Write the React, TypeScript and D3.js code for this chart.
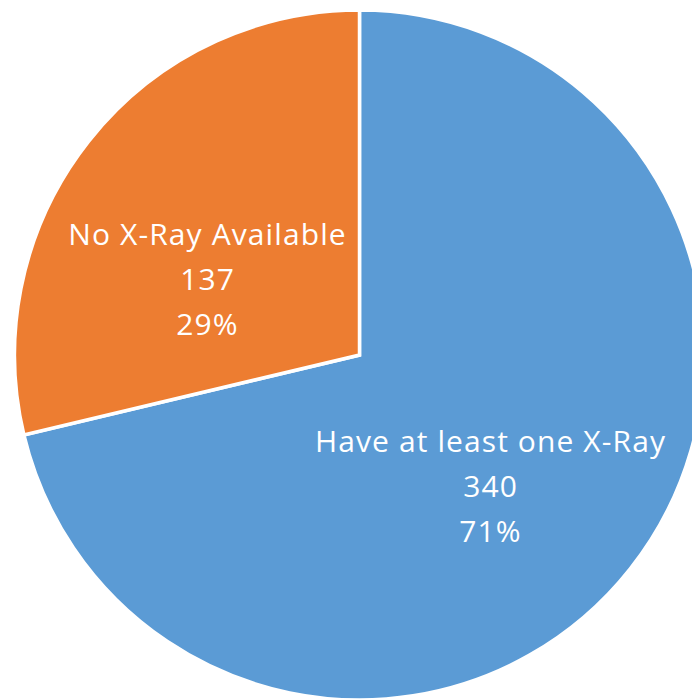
import React from "react";
import * as d3 from "d3";

const categories = ["Have at least one X-Ray", "No X-Ray Available"];
const values = [340, 137];
const percents = ["71%", "29%"];
const colors = ["#5B9BD5", "#ED7D31"];

const W = 692;
const H = 699;
const cx = 359.5;
const cy = 355;
const R = 345;
const labelAnchors: [number, number][] = [
  [490, 452],
  [207, 244.5],
];
const LS = 1.1;

export default function App() {
  const pie = d3.pie<number>().sort(null).value((d) => d);
  const arcs = pie(values);
  const arc = d3.arc<d3.PieArcDatum<number>>().innerRadius(0).outerRadius(R);
  return (
    <svg
      width={W}
      height={H}
      style={{ position: "absolute", left: 0, top: 0, background: "#fff" }}
      fontFamily="'Open Sans', sans-serif"
    >
      <g transform={`translate(${cx},${cy})`}>
        {arcs.map((a, i) => (
          <path key={i} d={arc(a) || ""} fill={colors[i]} stroke="#fff" strokeWidth={3.5} strokeLinejoin="miter" />
        ))}
      </g>
      {arcs.map((a, i) => {
        const [x, y] = labelAnchors[i];
        const lines = [categories[i], String(values[i]), percents[i]];
        return (
          <text key={i} textAnchor="middle" fill="#fff" fontSize={30} letterSpacing={LS}>
            {lines.map((t, j) => (
              <tspan key={j} x={x + LS / 2} y={y + j * 45}>
                {t}
              </tspan>
            ))}
          </text>
        );
      })}
    </svg>
  );
}
